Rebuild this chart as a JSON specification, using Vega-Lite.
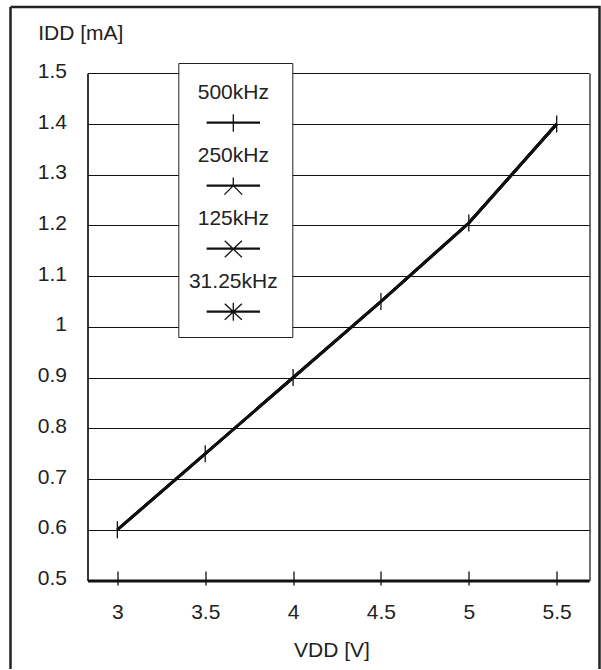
{
  "$schema": "https://vega.github.io/schema/vega-lite/v6.json",
  "width": 589,
  "height": 662,
  "autosize": {"type": "none"},
  "padding": {"left": 10.5, "top": 7, "right": 1.5, "bottom": 1},
  "background": "white",
  "config": {
    "view": {"stroke": "#222", "strokeWidth": 2.5, "strokeDash": [1251, 589, 662, 0]},
    "font": "Liberation Sans",
    "axis": {"labelFont": "Liberation Sans", "titleFont": "Liberation Sans", "labelFontSize": 21, "titleFontSize": 21, "labelColor": "#222", "titleColor": "#222", "titleFontWeight": "normal"}
  },
  "data": {
    "values": [
      {"series": "500kHz", "vdd": 3, "idd": 0.6},
      {"series": "500kHz", "vdd": 3.5, "idd": 0.75},
      {"series": "500kHz", "vdd": 4, "idd": 0.9},
      {"series": "500kHz", "vdd": 4.5, "idd": 1.05},
      {"series": "500kHz", "vdd": 5, "idd": 1.205},
      {"series": "500kHz", "vdd": 5.5, "idd": 1.4},
      {"series": "250kHz", "vdd": 3, "idd": 0.6},
      {"series": "250kHz", "vdd": 3.5, "idd": 0.75},
      {"series": "250kHz", "vdd": 4, "idd": 0.9},
      {"series": "250kHz", "vdd": 4.5, "idd": 1.05},
      {"series": "250kHz", "vdd": 5, "idd": 1.205},
      {"series": "250kHz", "vdd": 5.5, "idd": 1.4},
      {"series": "125kHz", "vdd": 3, "idd": 0.6},
      {"series": "125kHz", "vdd": 3.5, "idd": 0.75},
      {"series": "125kHz", "vdd": 4, "idd": 0.9},
      {"series": "125kHz", "vdd": 4.5, "idd": 1.05},
      {"series": "125kHz", "vdd": 5, "idd": 1.205},
      {"series": "125kHz", "vdd": 5.5, "idd": 1.4},
      {"series": "31.25kHz", "vdd": 3, "idd": 0.6},
      {"series": "31.25kHz", "vdd": 3.5, "idd": 0.75},
      {"series": "31.25kHz", "vdd": 4, "idd": 0.9},
      {"series": "31.25kHz", "vdd": 4.5, "idd": 1.05},
      {"series": "31.25kHz", "vdd": 5, "idd": 1.205},
      {"series": "31.25kHz", "vdd": 5.5, "idd": 1.4}
    ]
  },
  "layer": [
    {
      "mark": {"type": "line", "color": "#111", "strokeWidth": 2.8},
      "encoding": {
        "x": {
          "field": "vdd", "type": "quantitative",
          "scale": {"domain": [2.83, 5.684], "range": [77, 578.5], "nice": false, "zero": false},
          "axis": {
            "orient": "bottom", "offset": -98, "values": [3, 3.5, 4, 4.5, 5, 5.5], "format": ".1~f",
            "domain": false, "grid": false, "ticks": true, "tickSize": 14, "tickColor": "#111", "tickWidth": 1.3,
            "labelPadding": 16,
            "title": "VDD [V]", "titleX": 321, "titleY": 85.7, "titleAlign": "center", "titleBaseline": "alphabetic"
          }
        },
        "y": {
          "field": "idd", "type": "quantitative",
          "scale": {"domain": [0.5, 1.5], "range": [573.5, 66.3], "nice": false, "zero": false},
          "axis": {
            "orient": "left", "offset": -77, "values": [0.5, 0.6, 0.7, 0.8, 0.9, 1, 1.1, 1.2, 1.3, 1.4, 1.5], "format": ".1~f",
            "domain": true, "domainColor": "#111", "domainWidth": 1.2,
            "grid": true, "gridColor": "#111", "gridWidth": 1.2, "gridOpacity": 1,
            "ticks": false, "labelPadding": 21, "labelOffset": -2,
            "title": "IDD [mA]", "titleAngle": 0, "titleX": -49.8, "titleY": 32.3, "titleAlign": "left", "titleBaseline": "alphabetic"
          }
        },
        "detail": {"field": "series", "type": "nominal"}
      }
    },
    {
      "transform": [{"filter": "datum.series === '500kHz'"}],
      "mark": {"type": "point", "shape": "M0,-1L0,1", "size": 289, "filled": false, "color": "#111", "strokeWidth": 1.3, "opacity": 1},
      "encoding": {
        "x": {
          "field": "vdd", "type": "quantitative",
          "scale": {"domain": [2.83, 5.684], "range": [77, 578.5], "nice": false, "zero": false},
          "axis": {
            "orient": "top", "offset": -573.5, "values": [2.83, 5.684],
            "domain": true, "domainColor": "#111", "domainWidth": 3,
            "grid": true, "gridColor": "#111", "gridWidth": 1.2, "gridOpacity": 1,
            "ticks": false, "labels": false, "title": null
          }
        },
        "y": {
          "field": "idd", "type": "quantitative",
          "scale": {"domain": [0.5, 1.5], "range": [573.5, 66.3], "nice": false, "zero": false},
          "axis": null
        }
      }
    },
    {
      "mark": {"type": "point", "filled": false, "color": "#111", "opacity": 0},
      "encoding": {
        "x": {
          "field": "vdd", "type": "quantitative",
          "scale": {"domain": [2.83, 5.684], "range": [77, 578.5], "nice": false, "zero": false},
          "axis": null
        },
        "y": {
          "field": "idd", "type": "quantitative",
          "scale": {"domain": [0.5, 1.5], "range": [573.5, 66.3], "nice": false, "zero": false},
          "axis": null
        },
        "shape": {
          "field": "series", "type": "nominal",
          "scale": {
            "domain": ["500kHz", "250kHz", "125kHz", "31.25kHz"],
            "range": [
              "M0,2.31M2.55,1M-1.5,1.67L1.5,1.67M-1.5,1.72L1.5,1.72M0,1.22L0,2.2",
              "M0,2.31M2.55,1M-1.5,1.67L1.5,1.67M-1.5,1.72L1.5,1.72M0,1.24L0,1.69M-0.5,2.2L0,1.69L0.5,2.2",
              "M0,2.31M2.55,1M-1.5,1.67L1.5,1.67M-1.5,1.72L1.5,1.72M-0.48,1.25L0.48,2.18M-0.48,2.18L0.48,1.25",
              "M0,2.31M2.55,1M-1.5,1.67L1.5,1.67M-1.5,1.72L1.5,1.72M-0.48,1.25L0.48,2.15M-0.48,2.15L0.48,1.25M0,1.2L0,2.2"
            ]
          },
          "legend": {
            "orient": "none", "legendX": 167.8, "legendY": 56, "direction": "vertical", "title": null,
            "strokeColor": "#222", "fillColor": "white", "padding": 11, "rowPadding": 0,
            "labelFontSize": 21, "labelFont": "Liberation Sans", "labelColor": "#222",
            "labelAlign": "center", "labelBaseline": "middle", "labelOffset": -18.5, "labelLimit": 300,
            "symbolSize": 1267, "symbolStrokeWidth": 1.3, "symbolStrokeColor": "#111",
            "symbolFillColor": "transparent", "symbolOpacity": 1, "symbolOffset": 25.5
          }
        }
      }
    }
  ],
  "resolve": {"axis": {"x": "independent", "y": "independent"}}
}
